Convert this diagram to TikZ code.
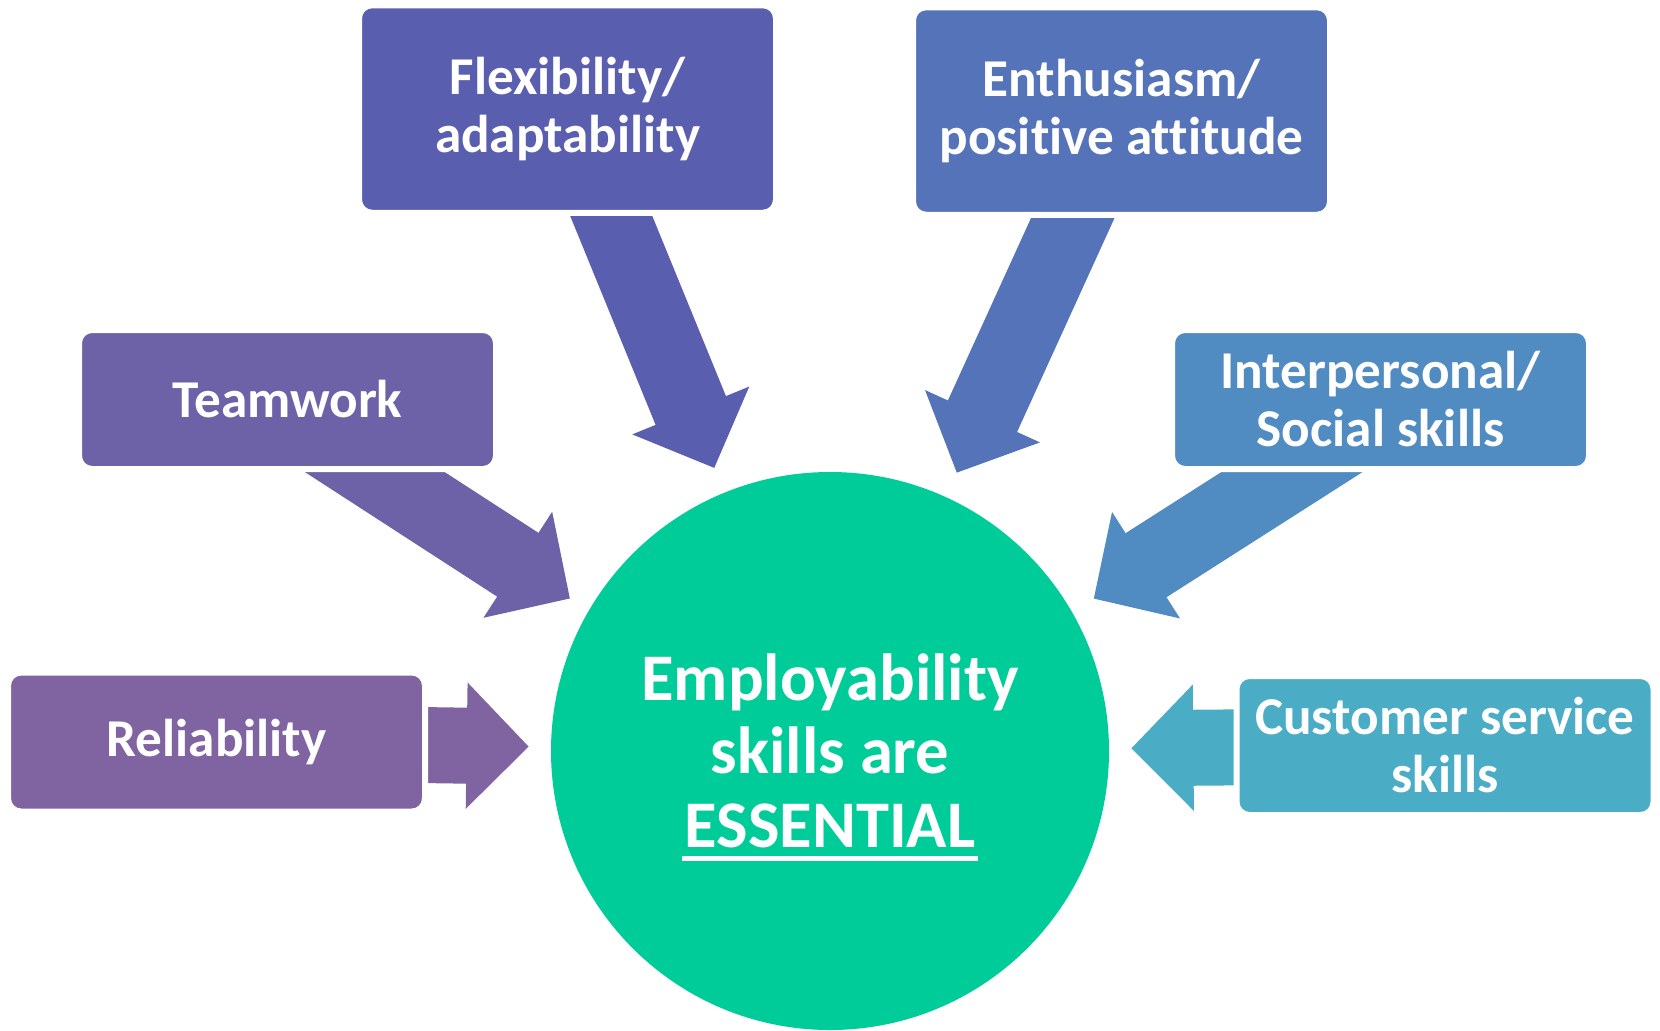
\documentclass[tikz,border=0pt]{standalone}
\usepackage{fontspec}
\setmainfont{Carlito}[Ligatures=NoCommon]
\usetikzlibrary{arrows.meta,backgrounds}

\definecolor{flexcol}{HTML}{5A5EAE}
\definecolor{enthcol}{HTML}{5573B8}
\definecolor{teamcol}{HTML}{6D61A7}
\definecolor{intercol}{HTML}{508CC1}
\definecolor{relcol}{HTML}{8064A2}
\definecolor{custcol}{HTML}{4BACC6}
\definecolor{hubcol}{HTML}{00CC99}

\newcommand{\essentialbar}[1]{\setbox0=\hbox{#1}\rlap{\kern-1.5pt\rule[-7pt]{\dimexpr\wd0+3pt\relax}{2.5pt}}\box0}

\begin{document}
\begin{tikzpicture}[x=0.5pt, y=-0.5pt,
    skill/.style={rounded corners=6.5pt, draw=white, line width=3pt, inner sep=1pt,
      minimum width=208.5pt, minimum height=69.5pt, text=white, align=center,
      font=\fontsize{26.6}{29}\selectfont\bfseries},
    push/.style={line width=38pt, -{Triangle[length=31pt, width=63pt, line width=1pt]}}]
    \useasboundingbox (0,0) rectangle (1660,1030);
    \node[skill, fill=flexcol, minimum height=103.75pt] (flex) at (567.5,109) {Flexibility/\\adaptability};
    \node[skill, fill=enthcol, minimum height=103.75pt] (enth) at (1121.5,111) {Enthusiasm/\\positive attitude};
    \node[skill, fill=teamcol] (team) at (287.5,399.5) {Teamwork};
    \node[skill, fill=intercol] (inter) at (1380.5,399.5) {Interpersonal/\\Social skills};
    \node[skill, fill=relcol] (rel) at (216.5,742) {Reliability};
    \node[skill, fill=custcol] (cust) at (1445,745.5) {Customer service\\skills};
    \node[circle, fill=hubcol, minimum size=279pt, inner sep=0pt, text=white, align=center,
      font=\fontsize{33.3}{36.75}\selectfont\bfseries] (hub) at (830,751)
      {\rule{0pt}{29.5pt}Employability\\skills are\\\essentialbar{ESSENTIAL}};
    \begin{pgfonlayer}{background}
      \draw [push, flexcol, shorten >=13.25pt] (flex.center) -- (hub);
      \draw [push, enthcol, shorten >=13.25pt] (enth.center) -- (hub);
      \draw [push, teamcol, shorten >=155pt] ([yshift=-8pt]team.center) -- ([yshift=-8pt]hub.center);
      \draw [push, intercol, shorten >=156.5pt] ([yshift=-8pt]inter.center) -- ([yshift=-8pt]hub.center);
      \draw [push, relcol, shorten >=11pt] (rel.center) -- (hub);
      \draw [push, custcol, shorten >=11pt] (cust.center) -- (hub);
    \end{pgfonlayer}
  \end{tikzpicture}
\end{document}
